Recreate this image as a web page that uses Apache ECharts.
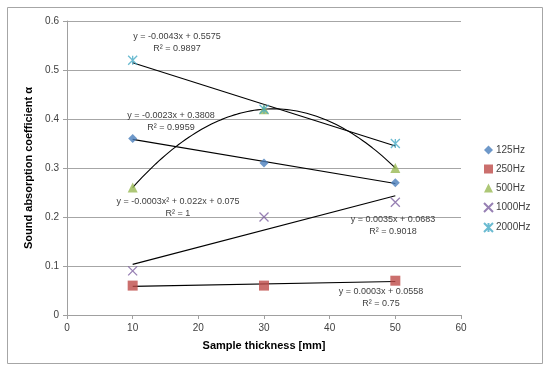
<!DOCTYPE html>
<html>
<head>
<meta charset="utf-8">
<script src="https://cdn.jsdelivr.net/npm/echarts@6/dist/echarts.min.js"></script>
<style>html,body{margin:0;padding:0;background:#fff}#c{width:550px;height:373px}</style>
</head>
<body>
<div id="c"></div>
<script>
var thickness = [10, 30, 50];
var s125 = [0.36, 0.31, 0.27];
var s250 = [0.06, 0.06, 0.07];
var s500 = [0.26, 0.42, 0.30];
var s1000 = [0.09, 0.20, 0.23];
var s2000 = [0.52, 0.42, 0.35];
var seriesNames = ['125Hz', '250Hz', '500Hz', '1000Hz', '2000Hz'];
var eqLabels = [
  ['y = -0.0023x + 0.3808', 'R\u00b2 = 0.9959'],
  ['y = 0.0003x + 0.0558', 'R\u00b2 = 0.75'],
  ['y = -0.0003x\u00b2 + 0.022x + 0.075', 'R\u00b2 = 1'],
  ['y = 0.0035x + 0.0683', 'R\u00b2 = 0.9018'],
  ['y = -0.0043x + 0.5575', 'R\u00b2 = 0.9897']
];
var xTicks = [0, 10, 20, 30, 40, 50, 60];
var yTicks = [0, 0.1, 0.2, 0.3, 0.4, 0.5, 0.6];

function linFit(xs, ys) {
  var n = xs.length, mx = 0, my = 0;
  for (var i = 0; i < n; i++) { mx += xs[i]; my += ys[i]; }
  mx /= n; my /= n;
  var sxy = 0, sxx = 0;
  for (var i = 0; i < n; i++) { sxy += (xs[i]-mx)*(ys[i]-my); sxx += (xs[i]-mx)*(xs[i]-mx); }
  var b = sxy / sxx, a = my - b*mx;
  return function (x) { return a + b*x; };
}
function quadFit(xs, ys) {
  // exact quadratic through three points (Lagrange form)
  return function (x) {
    var r = 0;
    for (var i = 0; i < 3; i++) {
      var t = ys[i];
      for (var j = 0; j < 3; j++) if (j !== i) t *= (x - xs[j]) / (xs[i] - xs[j]);
      r += t;
    }
    return r;
  };
}
function lineData(f, x0, x1, steps) {
  var out = [];
  for (var i = 0; i <= steps; i++) { var x = x0 + (x1-x0)*i/steps; out.push([x, f(x)]); }
  return out;
}
function pts(ys) { return thickness.map(function (x, i) { return [x, ys[i]]; }); }

var colors = ['#4a7ebb', '#be4b48', '#98b954', '#7d60a0', '#46aac5'];
var symbols = ['diamond', 'rect', 'triangle', 'path://M0,0L10,10M10,0L0,10', 'path://M0,0L10,10M10,0L0,10M5,0L5,10'];
var sizes = [9, 10, 10, 9, 9];
var allY = [s125, s250, s500, s1000, s2000];
var trendFns = [linFit(thickness, s125), linFit(thickness, s250), quadFit(thickness, s500), linFit(thickness, s1000), linFit(thickness, s2000)];

var series = [];
for (var k = 0; k < 5; k++) {
  series.push({
    type: 'line', silent: true, showSymbol: false, symbol: 'none', z: 2,
    data: lineData(trendFns[k], thickness[0], thickness[2], k === 2 ? 80 : 1),
    lineStyle: { color: '#000', width: 1.1 }
  });
}
for (var k = 0; k < 5; k++) {
  var stroke = k >= 3;
  series.push({
    name: seriesNames[k], type: 'scatter', z: 3,
    symbol: symbols[k], symbolSize: sizes[k],
    data: pts(allY[k]),
    itemStyle: stroke ? { color: 'rgba(0,0,0,0)', borderColor: colors[k], borderWidth: 1.3 } : { color: colors[k] }
  });
}

var eqPos = [[171, 116], [381, 292], [178, 202], [393, 220], [177, 37]];
var graphics = [{
  type: 'rect', shape: { x: 7.5, y: 7.5, width: 535, height: 356 },
  style: { fill: 'none', stroke: '#a6a6a6', lineWidth: 1 }, z: -1
}];
for (var k = 0; k < 5; k++) {
  for (var l = 0; l < 2; l++) {
    graphics.push({
      type: 'text', x: eqPos[k][0], y: eqPos[k][1] + l*11.5, z: 10,
      style: { text: eqLabels[k][l], fill: '#404040', font: '9px "Liberation Sans", Arial, sans-serif', textAlign: 'center', textVerticalAlign: 'middle' }
    });
  }
}

var chart = echarts.init(document.getElementById('c'), null, { renderer: 'canvas' });
chart.setOption({
  animation: false,
  backgroundColor: '#fff',
  grid: { left: 67, right: 89, top: 21, bottom: 58, containLabel: false },
  legend: {
    orient: 'vertical', left: 483, top: 145, padding: 0,
    itemWidth: 9, itemHeight: 9, itemGap: 9,
    data: seriesNames,
    textStyle: { fontSize: 10, color: '#404040', fontFamily: '"Liberation Sans", Arial, sans-serif', padding: [0, 0, 0, -2] }
  },
  xAxis: {
    type: 'value', min: xTicks[0], max: xTicks[xTicks.length-1], interval: 10,
    name: 'Sample thickness [mm]', nameLocation: 'middle', nameGap: 25,
    nameTextStyle: { fontSize: 11, fontWeight: 'bold', color: '#000', fontFamily: '"Liberation Sans", Arial, sans-serif' },
    axisLine: { lineStyle: { color: '#a0a0a0' } },
    axisTick: { show: true, length: 4, lineStyle: { color: '#a0a0a0' } },
    axisLabel: { fontSize: 10, color: '#404040', margin: 8, fontFamily: '"Liberation Sans", Arial, sans-serif' },
    splitLine: { show: false }
  },
  yAxis: {
    type: 'value', min: yTicks[0], max: yTicks[yTicks.length-1], interval: 0.1,
    name: 'Sound absorption coefficient \u03b1', nameLocation: 'middle', nameGap: 32, nameRotate: 90,
    nameTextStyle: { fontSize: 11, fontWeight: 'bold', color: '#000', fontFamily: '"Liberation Sans", Arial, sans-serif' },
    axisLine: { show: true, lineStyle: { color: '#a0a0a0' } },
    axisTick: { show: true, length: 4, lineStyle: { color: '#a0a0a0' } },
    axisLabel: { fontSize: 10, color: '#404040', margin: 8, fontFamily: '"Liberation Sans", Arial, sans-serif',
      formatter: function (v) { return v === 0 ? '0' : v.toFixed(1); } },
    splitLine: { show: true, lineStyle: { color: '#a6a6a6', width: 1 } }
  },
  graphic: graphics,
  series: series
});
</script>
</body>
</html>
